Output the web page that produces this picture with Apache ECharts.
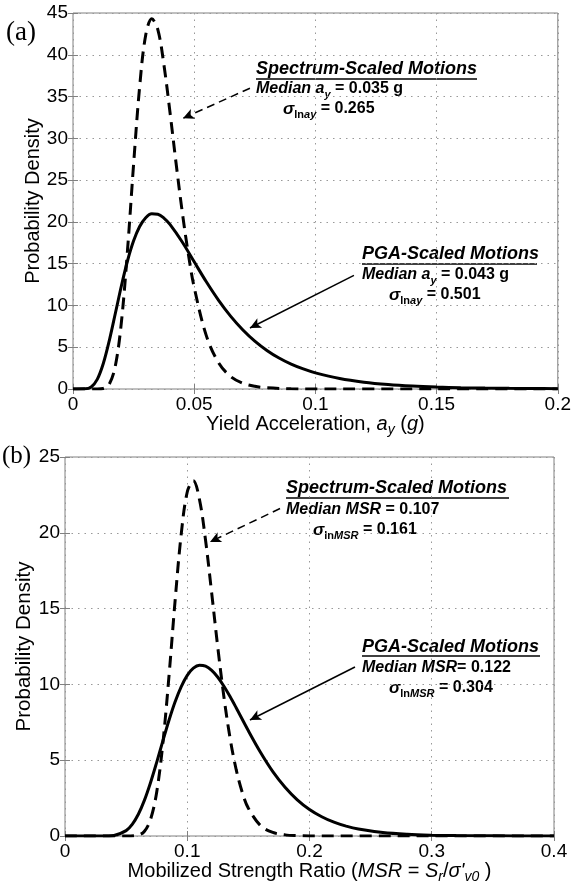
<!DOCTYPE html>
<html><head><meta charset="utf-8">
<script src="https://cdn.jsdelivr.net/npm/echarts@6/dist/echarts.min.js"></script>
<style>html,body{margin:0;padding:0;background:#fff}#c{width:574px;height:888px}</style>
</head><body><div id="c"></div>
<script>
// ---- Panel (a): yield acceleration ----
const ayAxis = {min: 0, max: 0.2, interval: 0.05};
const pdfAxisA = {min: 0, max: 45, interval: 5};
const aySpecX = [0, 0.01, 0.0125, 0.015, 0.0175, 0.02, 0.0225, 0.025, 0.0275, 0.03, 0.0325, 0.035, 0.0375, 0.04, 0.0425, 0.045, 0.0475, 0.05, 0.055, 0.06, 0.065, 0.07, 0.075, 0.08, 0.09, 0.1, 0.12, 0.15, 0.2];
const aySpecY = [0, 0.002, 0.063, 0.605, 2.81, 8.09, 16.67, 26.9, 36.18, 42.37, 44.3, 43.01, 38.81, 33.15, 27.08, 21.34, 16.32, 12.17, 6.39, 3.17, 1.51, 0.703, 0.321, 0.145, 0.029, 0.005, 0, 0, 0];
const ayPgaX = [0, 0.005, 0.0075, 0.01, 0.0125, 0.015, 0.0175, 0.02, 0.0225, 0.025, 0.0275, 0.03, 0.0325, 0.035, 0.0375, 0.04, 0.045, 0.05, 0.055, 0.06, 0.065, 0.07, 0.075, 0.08, 0.085, 0.09, 0.095, 0.1, 0.11, 0.12, 0.13, 0.14, 0.15, 0.16, 0.17, 0.18, 0.19, 0.2];
const ayPgaY = [0, 0.016, 0.244, 1.149, 3.05, 5.83, 9.09, 12.39, 15.35, 17.73, 19.45, 20.50, 20.96, 20.91, 20.46, 19.70, 17.62, 15.22, 12.83, 10.64, 8.72, 7.09, 5.73, 4.62, 3.71, 2.98, 2.40, 1.93, 1.25, 0.814, 0.535, 0.354, 0.237, 0.160, 0.109, 0.075, 0.052, 0.036];

// ---- Panel (b): mobilized strength ratio ----
const msrAxis = {min: 0, max: 0.4, interval: 0.1};
const pdfAxisB = {min: 0, max: 25, interval: 5};
const msrSpecX = [0, 0.05, 0.06, 0.065, 0.07, 0.075, 0.08, 0.085, 0.09, 0.095, 0.1, 0.105, 0.11, 0.115, 0.12, 0.125, 0.13, 0.135, 0.14, 0.145, 0.15, 0.16, 0.17, 0.18, 0.19, 0.2, 0.25, 0.3, 0.4];
const msrSpecY = [0, 0.001, 0.065, 0.316, 1.10, 2.89, 6.07, 10.49, 15.46, 19.86, 22.69, 23.44, 22.20, 19.49, 16.02, 12.43, 9.17, 6.47, 4.39, 2.88, 1.83, 0.683, 0.233, 0.075, 0.023, 0.006, 0, 0, 0];
const msrPgaX = [0, 0.03, 0.04, 0.05, 0.055, 0.06, 0.065, 0.07, 0.075, 0.08, 0.085, 0.09, 0.095, 0.1, 0.105, 0.11, 0.115, 0.12, 0.125, 0.13, 0.135, 0.14, 0.15, 0.16, 0.17, 0.18, 0.19, 0.2, 0.21, 0.22, 0.23, 0.24, 0.26, 0.28, 0.3, 0.32, 0.35, 0.4];
const msrPgaY = [0, 0.001, 0.039, 0.354, 0.770, 1.434, 2.364, 3.53, 4.86, 6.26, 7.62, 8.84, 9.84, 10.60, 11.07, 11.26, 11.20, 10.92, 10.47, 9.88, 9.20, 8.46, 6.94, 5.51, 4.25, 3.22, 2.39, 1.75, 1.27, 0.909, 0.648, 0.459, 0.228, 0.112, 0.055, 0.027, 0.01, 0.002];

const pairs = (xs, ys) => xs.map((x, i) => [x, ys[i]]);
const FF = '"Liberation Sans", Arial, sans-serif';
const GRAY = '#808080';

function mainX(grid, rng, name, rich, gap) {
  return {type: 'value', gridIndex: grid, position: 'bottom', min: rng.min, max: rng.max, interval: rng.interval,
    axisLine: {show: false}, axisTick: {inside: true, length: 5, lineStyle: {color: GRAY}},
    axisLabel: {color: '#000', fontSize: 19, fontFamily: FF, margin: 6},
    splitLine: {show: true, lineStyle: {color: '#999', type: [1.5, 5], width: 1}},
    name: name, nameLocation: 'middle', nameGap: gap, nameTextStyle: {color: '#000', fontSize: 20, fontFamily: FF, rich: rich}};
}
function mainY(grid, rng, gap, fs) {
  return {type: 'value', gridIndex: grid, position: 'left', min: rng.min, max: rng.max, interval: rng.interval,
    axisLine: {show: false}, axisTick: {inside: true, length: 5, lineStyle: {color: GRAY}},
    axisLabel: {color: '#000', fontSize: 19, fontFamily: FF, margin: 5},
    splitLine: {show: true, lineStyle: {color: '#999', type: [1.5, 5], width: 1}},
    name: 'Probability Density', nameLocation: 'middle', nameGap: gap, nameMoveOverlap: false,
    nameTextStyle: {color: '#000', fontSize: fs, fontFamily: FF}};
}
function sideAxis(grid, rng, pos) {
  return {type: 'value', gridIndex: grid, position: pos, min: rng.min, max: rng.max, interval: rng.interval,
    axisLine: {show: false}, axisTick: {inside: true, length: 5, lineStyle: {color: GRAY}},
    axisLabel: {show: false}, splitLine: {show: false}};
}

const nameRich = {
  n: {fontSize: 20, fontFamily: FF, color: '#000', lineHeight: 25},
  i: {fontSize: 20, fontFamily: FF, fontStyle: 'italic', color: '#000', lineHeight: 25},
  s: {fontSize: 14, fontFamily: FF, fontStyle: 'italic', color: '#000', lineHeight: 14, verticalAlign: 'bottom'}
};

const arrowCommon = {silent: true, animation: false, symbol: ['none', 'arrow'], symbolSize: [8, 11], label: {show: false}, emphasis: {disabled: true}};

const annRich = {
  bi: {fontSize: 16, fontFamily: FF, fontWeight: 'bold', fontStyle: 'italic', color: '#000', lineHeight: 22},
  b: {fontSize: 16, fontFamily: FF, fontWeight: 'bold', color: '#000', lineHeight: 22},
  sg: {fontSize: 17, fontFamily: FF, fontWeight: 'bold', fontStyle: 'italic', color: '#000', lineHeight: 22},
  s: {fontSize: 11, fontFamily: FF, fontWeight: 'bold', color: '#000', lineHeight: 11, verticalAlign: 'bottom'},
  si: {fontSize: 11, fontFamily: FF, fontWeight: 'bold', fontStyle: 'italic', color: '#000', lineHeight: 11, verticalAlign: 'bottom'}
};
function ann(x, y, text) {
  return {type: 'text', x: x, y: y, silent: true, style: {text: text, rich: annRich, fill: '#000', align: 'left', verticalAlign: 'middle', textAlign: 'left', textVerticalAlign: 'middle', font: 'bold 16px ' + FF}};
}
function title(x, y, text) {
  return {type: 'text', x: x, y: y, silent: true, style: {text: text, fill: '#000', align: 'left', verticalAlign: 'middle', textAlign: 'left', textVerticalAlign: 'middle', font: 'italic bold 18px ' + FF}};
}
function uline(x1, x2, y) {
  return {type: 'line', silent: true, shape: {x1: x1, y1: y, x2: x2, y2: y}, style: {stroke: '#000', lineWidth: 1.5}};
}

const option = {
  animation: false,
  backgroundColor: '#fff',
  grid: [
    {left: 73, top: 13, width: 486, height: 376, show: true, borderColor: GRAY, borderWidth: 1, backgroundColor: 'transparent'},
    {left: 65, top: 457, width: 489, height: 379, show: true, borderColor: GRAY, borderWidth: 1, backgroundColor: 'transparent'}
  ],
  xAxis: [
    mainX(0, ayAxis, '{n|Yield Acceleration, }{i|a}{s|y}{n| (}{i|g}{n|)}', nameRich, 22),
    sideAxis(0, ayAxis, 'top'),
    mainX(1, msrAxis, "{n|Mobilized Strength Ratio (}{i|MSR}{n| = }{i|S}{s|r}{n|/}{i|σ'}{s|v0}{n| )}", nameRich, 21),
    sideAxis(1, msrAxis, 'top')
  ],
  yAxis: [
    mainY(0, pdfAxisA, 30, 20),
    sideAxis(0, pdfAxisA, 'right'),
    mainY(1, pdfAxisB, 30, 20.5),
    sideAxis(1, pdfAxisB, 'right')
  ],
  series: [
    {type: 'line', xAxisIndex: 0, yAxisIndex: 0, data: pairs(ayPgaX, ayPgaY), showSymbol: false, smooth: 0.35,
      lineStyle: {color: '#000', width: 3}, silent: true,
      markLine: Object.assign({}, arrowCommon, {lineStyle: {color: '#000', width: 1.5, type: 'solid'},
        data: [[{coord: [0.1159, 13.6]}, {coord: [0.0730, 7.3]}]]})},
    {type: 'line', xAxisIndex: 0, yAxisIndex: 0, data: pairs(aySpecX, aySpecY), showSymbol: false, smooth: 0.35,
      lineStyle: {color: '#000', width: 3, type: [12, 7]}, silent: true,
      markLine: Object.assign({}, arrowCommon, {lineStyle: {color: '#000', width: 1.5, type: [8, 5]},
        data: [[{coord: [0.0730, 36.0]}, {coord: [0.0454, 32.4]}]]})},
    {type: 'line', xAxisIndex: 2, yAxisIndex: 2, data: pairs(msrPgaX, msrPgaY), showSymbol: false, smooth: 0.35,
      lineStyle: {color: '#000', width: 3}, silent: true,
      markLine: Object.assign({}, arrowCommon, {lineStyle: {color: '#000', width: 1.5, type: 'solid'},
        data: [[{coord: [0.2372, 11.15]}, {coord: [0.1513, 7.65]}]]})},
    {type: 'line', xAxisIndex: 2, yAxisIndex: 2, data: pairs(msrSpecX, msrSpecY), showSymbol: false, smooth: 0.35,
      lineStyle: {color: '#000', width: 3, type: [12, 7]}, silent: true,
      markLine: Object.assign({}, arrowCommon, {lineStyle: {color: '#000', width: 1.5, type: [8, 5]},
        data: [[{coord: [0.1759, 21.6]}, {coord: [0.1186, 19.4]}]]})}
  ],
  graphic: [
    {type: 'text', x: 6, y: 33, silent: true, style: {text: '(a)', fill: '#000', font: '27px "Liberation Serif", "Times New Roman", serif', verticalAlign: 'middle', textVerticalAlign: 'middle'}},
    {type: 'text', x: 2, y: 456, silent: true, style: {text: '(b)', fill: '#000', font: '25px "Liberation Serif", "Times New Roman", serif', verticalAlign: 'middle', textVerticalAlign: 'middle'}},
    title(256, 69, 'Spectrum-Scaled Motions'), uline(256, 477, 79),
    ann(256, 89, '{bi|Median a}{si|y}{b| = 0.035 g}'),
    ann(283, 109, '{sg|σ}{s|ln}{si|ay}{b| = 0.265}'),
    title(362, 254, 'PGA-Scaled Motions'), uline(362, 537, 264),
    ann(362, 275, '{bi|Median a}{si|y}{b| = 0.043 g}'),
    ann(389, 295, '{sg|σ}{s|ln}{si|ay}{b| = 0.501}'),
    title(286, 488, 'Spectrum-Scaled Motions'), uline(286, 509, 498),
    ann(286, 510, '{bi|Median MSR}{b| = 0.107}'),
    ann(313, 530, '{sg|σ}{s|ln}{si|MSR}{b| = 0.161}'),
    title(362, 647, 'PGA-Scaled Motions'), uline(362, 540, 656),
    ann(362, 668, '{bi|Median MSR}{b|= 0.122}'),
    ann(389, 688, '{sg|σ}{s|ln}{si|MSR}{b| = 0.304}')
  ]
};
echarts.init(document.getElementById('c'), null, {renderer: 'canvas'}).setOption(option);
</script></body></html>
